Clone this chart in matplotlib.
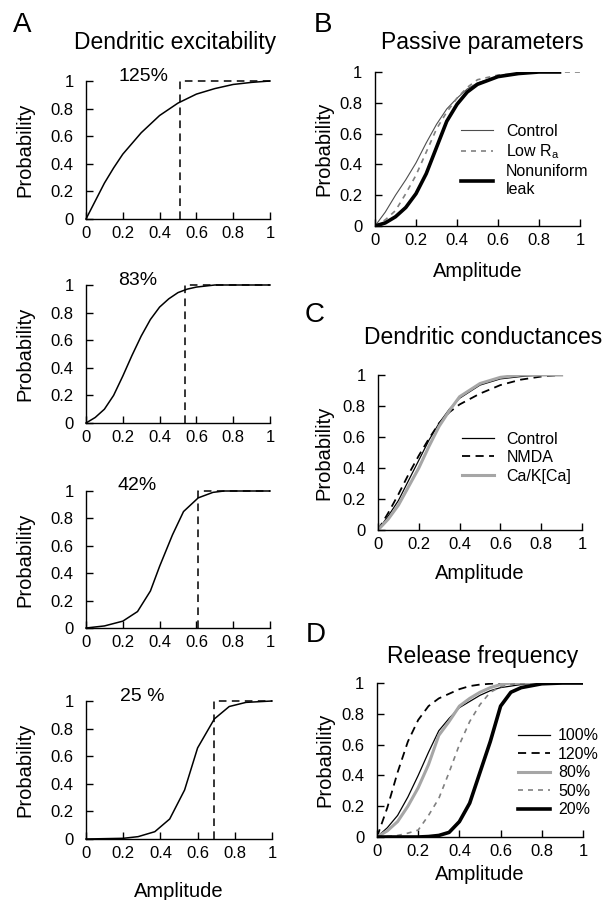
import matplotlib
matplotlib.use("Agg")
import matplotlib.pyplot as plt

plt.rcParams['font.family'] = ['Liberation Sans', 'DejaVu Sans']

# ---------------- data ----------------
tick_vals = [0, 0.2, 0.4, 0.6, 0.8, 1]
tick_labels = ["0", "0.2", "0.4", "0.6", "0.8", "1"]

# Panel A: dendritic excitability
a1_x = [0, 0.05, 0.1, 0.15, 0.2, 0.3, 0.4, 0.5, 0.6, 0.7, 0.8, 0.9, 1.0]
a1_y = [0, 0.13, 0.26, 0.37, 0.47, 0.625, 0.75, 0.84, 0.905, 0.945, 0.975, 0.99, 1.0]
a2_x = [0, 0.05, 0.1, 0.15, 0.2, 0.25, 0.3, 0.35, 0.4, 0.45, 0.5, 0.55, 0.6, 0.7, 1.0]
a2_y = [0, 0.04, 0.10, 0.20, 0.34, 0.49, 0.63, 0.75, 0.84, 0.90, 0.945, 0.97, 0.985, 1.0, 1.0]
a3_x = [0, 0.1, 0.2, 0.28, 0.35, 0.40, 0.47, 0.53, 0.61, 0.69, 0.75, 1.0]
a3_y = [0, 0.015, 0.05, 0.12, 0.27, 0.45, 0.68, 0.85, 0.95, 0.99, 1.0, 1.0]
a4_x = [0, 0.2, 0.28, 0.37, 0.45, 0.53, 0.60, 0.69, 0.77, 0.86, 1.0]
a4_y = [0, 0.005, 0.017, 0.053, 0.145, 0.355, 0.66, 0.87, 0.96, 0.99, 1.0]
a_labels = ["125%", "83%", "42%", "25 %"]
a_thresholds = [0.51, 0.54, 0.61, 0.69]

# Panel B: passive parameters
b_x = [0, 0.05, 0.1, 0.15, 0.2, 0.25, 0.3, 0.35, 0.4, 0.45, 0.5, 0.6, 0.7, 0.8, 0.9]
b_control = [0, 0.09, 0.20, 0.30, 0.41, 0.54, 0.66, 0.76, 0.83, 0.89, 0.93, 0.97, 0.99, 1.0, 1.0]
b_lowra_x = [0, 0.05, 0.1, 0.15, 0.2, 0.25, 0.3, 0.35, 0.4, 0.45, 0.5, 0.6, 0.7, 0.8, 0.9, 1.0]
b_lowra = [0, 0.04, 0.10, 0.21, 0.33, 0.48, 0.63, 0.74, 0.83, 0.90, 0.95, 0.98, 0.99, 1.0, 1.0, 1.0]
b_nonuni = [0, 0.02, 0.06, 0.12, 0.21, 0.34, 0.51, 0.68, 0.79, 0.87, 0.92, 0.97, 0.99, 1.0, 1.0]

# Panel C: dendritic conductances
c_x = [0, 0.05, 0.1, 0.15, 0.2, 0.25, 0.3, 0.35, 0.4, 0.5, 0.6, 0.7, 0.8, 0.9]
c_control = [0, 0.09, 0.19, 0.32, 0.45, 0.58, 0.69, 0.78, 0.85, 0.935, 0.975, 0.99, 1.0, 1.0]
c_nmda = [0, 0.11, 0.23, 0.36, 0.48, 0.59, 0.69, 0.76, 0.81, 0.88, 0.935, 0.97, 0.99, 1.0]
c_cak = [0, 0.07, 0.16, 0.28, 0.40, 0.54, 0.67, 0.77, 0.86, 0.945, 0.985, 1.0, 1.0, 1.0]

# Panel D: release frequency
d_x = [0, 0.05, 0.1, 0.15, 0.2, 0.25, 0.3, 0.35, 0.4, 0.45, 0.5, 0.55, 0.6, 0.65, 0.7, 0.8, 0.9, 1.0]
d_100 = [0, 0.06, 0.14, 0.26, 0.40, 0.55, 0.69, 0.77, 0.84, 0.88, 0.92, 0.95, 0.97, 0.98, 0.99, 1, 1, 1]
d_120 = [0, 0.19, 0.42, 0.62, 0.76, 0.85, 0.90, 0.93, 0.96, 0.98, 0.99, 0.995, 1, 1, 1, 1, 1, 1]
d_80 = [0, 0.04, 0.10, 0.20, 0.32, 0.47, 0.66, 0.75, 0.85, 0.90, 0.94, 0.97, 0.99, 1, 1, 1, 1, 1]
d_50 = [0, 0.003, 0.01, 0.025, 0.045, 0.14, 0.25, 0.42, 0.60, 0.75, 0.86, 0.94, 0.975, 0.99, 1, 1, 1, 1]
d_20 = [0, 0, 0, 0, 0, 0.003, 0.01, 0.03, 0.10, 0.22, 0.42, 0.62, 0.85, 0.94, 0.97, 0.995, 1, 1]

# ---------------- figure ----------------
W, H = 603, 900
fig = plt.figure(figsize=(W / 100, H / 100), dpi=100)


def make_ax(l, r, t, b):
    ax = fig.add_axes([l / W, 1 - b / H, (r - l) / W, (b - t) / H])
    ax.set_xlim(0, 1)
    ax.set_ylim(0, 1)
    for s in ("top", "right"):
        ax.spines[s].set_visible(False)
    for s in ("left", "bottom"):
        ax.spines[s].set_linewidth(1.0)
    ax.set_xticks(tick_vals)
    ax.set_xticklabels(tick_labels)
    ax.set_yticks(tick_vals)
    ax.set_yticklabels(tick_labels)
    ax.tick_params(axis="both", direction="in", length=5, width=1.0, labelsize=12)
    ax.tick_params(axis="x", pad=5)
    ax.tick_params(axis="y", pad=9)
    ax.patch.set_alpha(0)
    return ax


def ftext(x, y, s, **kw):
    fig.text(x / W, 1 - y / H, s, **kw)


leg_kw = dict(loc="upper left", frameon=False, fontsize=11.5, handlelength=2.0,
              labelspacing=0.22, borderpad=0, borderaxespad=0)

# Panel A
a_boxes = [(86, 270, 81, 219), (86, 270, 285, 423), (86, 270, 491, 628), (86, 272, 701, 839)]
a_data = [(a1_x, a1_y), (a2_x, a2_y), (a3_x, a3_y), (a4_x, a4_y)]
a_text_pos = [(0.31, 1.03), (0.28, 1.03), (0.28, 1.04), (0.30, 1.03)]
for i, (box, (xs, ys)) in enumerate(zip(a_boxes, a_data)):
    ax = make_ax(*box)
    ax.plot(xs, ys, color="black", lw=1.1, clip_on=False)
    xv = a_thresholds[i]
    ax.plot([xv, xv, 1], [0, 1, 1], color="black", lw=1.1, dashes=(5, 3.5), clip_on=False)
    ax.text(a_text_pos[i][0], a_text_pos[i][1], a_labels[i], fontsize=14,
            ha="center", va="center", transform=ax.transData)
    ax.set_ylabel("Probability", fontsize=14.5)
    ax.yaxis.set_label_coords(-0.28, 0.5)
    if i == 3:
        ax.set_xlabel("Amplitude", fontsize=14.5)
        ax.xaxis.set_label_coords(0.5, -0.31)

# Panel B
axB = make_ax(375, 580, 72, 226)
axB.plot(b_x, b_control, color="0.3", lw=0.8, label="Control")
axB.plot(b_lowra_x, b_lowra, color="0.5", lw=1.2, dashes=(3, 3), label="Low R$_\\mathregular{a}$")
axB.plot(b_x, b_nonuni, color="black", lw=2.6, label="Nonuniform\nleak")
axB.set_ylabel("Probability", fontsize=14.5)
axB.yaxis.set_label_coords(-0.205, 0.5)
axB.set_xlabel("Amplitude", fontsize=14.5)
axB.xaxis.set_label_coords(0.5, -0.235)
axB.legend(bbox_to_anchor=(0.42, 0.665), handletextpad=0.8, **leg_kw)

# Panel C
axC = make_ax(378, 582, 375, 530)
axC.plot(c_x, c_control, color="black", lw=0.9, label="Control")
axC.plot(c_x, c_nmda, color="black", lw=1.3, dashes=(4.5, 3), label="NMDA")
axC.plot(c_x, c_cak, color="0.65", lw=2.2, label="Ca/K[Ca]")
axC.set_ylabel("Probability", fontsize=14.5)
axC.yaxis.set_label_coords(-0.22, 0.5)
axC.set_xlabel("Amplitude", fontsize=14.5)
axC.xaxis.set_label_coords(0.5, -0.22)
axC.legend(bbox_to_anchor=(0.41, 0.635), handletextpad=0.8, **leg_kw)

# Panel D
axD = make_ax(377, 583, 683, 837)
axD.plot(d_x, d_100, color="black", lw=0.9, label="100%")
axD.plot(d_x, d_120, color="black", lw=1.3, dashes=(4.5, 3), label="120%")
axD.plot(d_x, d_80, color="0.65", lw=2.2, label="80%")
axD.plot(d_x, d_50, color="0.5", lw=1.2, dashes=(3, 3), label="50%")
axD.plot(d_x, d_20, color="black", lw=2.6, label="20%")
axD.set_ylabel("Probability", fontsize=14.5)
axD.yaxis.set_label_coords(-0.205, 0.5)
axD.set_xlabel("Amplitude", fontsize=14.5)
axD.xaxis.set_label_coords(0.5, -0.18)
axD.legend(bbox_to_anchor=(0.685, 0.705), handletextpad=0.5, **leg_kw)

# Titles and panel letters
ftext(175, 42, "Dendritic excitability", fontsize=16.5, ha="center", va="center")
ftext(482, 43, "Passive parameters", fontsize=16.5, ha="center", va="center")
ftext(483, 338, "Dendritic conductances", fontsize=16.5, ha="center", va="center")
ftext(483, 657, "Release frequency", fontsize=16.5, ha="center", va="center")
ftext(22, 25, "A", fontsize=20, ha="center", va="center")
ftext(323, 25, "B", fontsize=20, ha="center", va="center")
ftext(315, 315, "C", fontsize=20, ha="center", va="center")
ftext(316, 635, "D", fontsize=20, ha="center", va="center")

fig.savefig("out.png", dpi=100)
